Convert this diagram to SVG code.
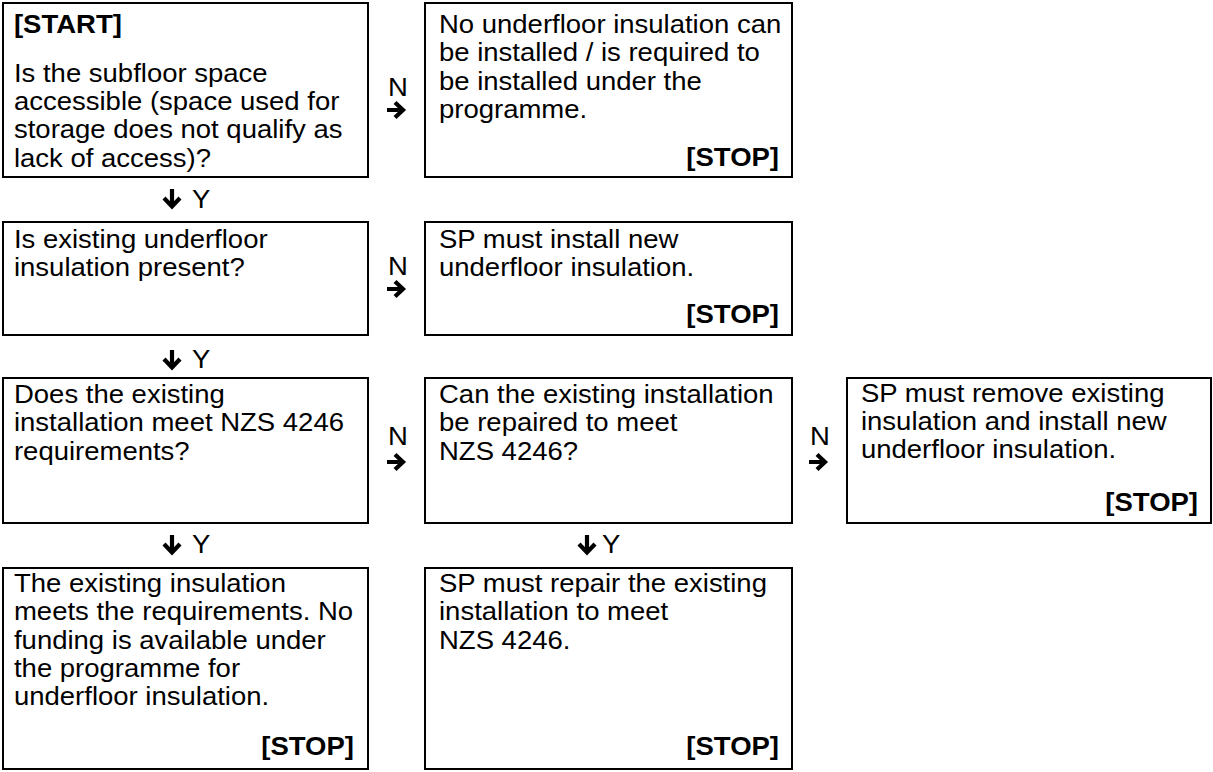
<svg xmlns="http://www.w3.org/2000/svg" width="1213" height="772" viewBox="0 0 1213 772">
<style>
.bg{fill:#fff}
.box{fill:#fff;stroke:#000;stroke-width:2}
.t{font-family:"Liberation Sans",Arial,sans-serif;font-size:25px;fill:#000}
.b{font-weight:bold}
.e{text-anchor:end}
.arr{fill:none;stroke:#000;stroke-width:4.2;stroke-linejoin:miter;stroke-linecap:butt}
</style>
<rect class="bg" x="0" y="0" width="1213" height="772"/>
<g id="n1">
<rect class="box" x="3" y="3" width="365" height="174"/>
<g transform="scale(1.1 1)">
<text class="t b" x="12.7" y="33">[START]</text>
<text class="t" x="12.7" y="82">Is the subfloor space</text>
<text class="t" x="12.7" y="110">accessible (space used for</text>
<text class="t" x="12.7" y="138.5">storage does not qualify as</text>
<text class="t" x="12.7" y="167">lack of access)?</text>
</g>
</g>
<g id="n2">
<rect class="box" x="425" y="3" width="367" height="174"/>
<g transform="scale(1.1 1)">
<text class="t" x="399.1" y="33">No underfloor insulation can</text>
<text class="t" x="399.1" y="61.5">be installed / is required to</text>
<text class="t" x="399.1" y="90">be installed under the</text>
<text class="t" x="399.1" y="118.5">programme.</text>
<text class="t b e" x="708.2" y="166">[STOP]</text>
</g>
</g>
<g id="n3">
<rect class="box" x="3" y="222" width="365" height="113"/>
<g transform="scale(1.1 1)">
<text class="t" x="12.7" y="248">Is existing underfloor</text>
<text class="t" x="12.7" y="276">insulation present?</text>
</g>
</g>
<g id="n4">
<rect class="box" x="425" y="222" width="367" height="113"/>
<g transform="scale(1.1 1)">
<text class="t" x="399.1" y="248">SP must install new</text>
<text class="t" x="399.1" y="276">underfloor insulation.</text>
<text class="t b e" x="708.2" y="323">[STOP]</text>
</g>
</g>
<g id="n5">
<rect class="box" x="3" y="378" width="365" height="145"/>
<g transform="scale(1.1 1)">
<text class="t" x="12.7" y="403">Does the existing</text>
<text class="t" x="12.7" y="431">installation meet NZS 4246</text>
<text class="t" x="12.7" y="460">requirements?</text>
</g>
</g>
<g id="n6">
<rect class="box" x="425" y="378" width="367" height="145"/>
<g transform="scale(1.1 1)">
<text class="t" x="399.1" y="403">Can the existing installation</text>
<text class="t" x="399.1" y="431">be repaired to meet</text>
<text class="t" x="399.1" y="460">NZS 4246?</text>
</g>
</g>
<g id="n7">
<rect class="box" x="847" y="378" width="364" height="145"/>
<g transform="scale(1.1 1)">
<text class="t" x="782.7" y="402">SP must remove existing</text>
<text class="t" x="782.7" y="430">insulation and install new</text>
<text class="t" x="782.7" y="458">underfloor insulation.</text>
<text class="t b e" x="1089.1" y="511">[STOP]</text>
</g>
</g>
<g id="n8">
<rect class="box" x="3" y="568" width="365" height="201"/>
<g transform="scale(1.1 1)">
<text class="t" x="12.7" y="592">The existing insulation</text>
<text class="t" x="12.7" y="620">meets the requirements. No</text>
<text class="t" x="12.7" y="649">funding is available under</text>
<text class="t" x="12.7" y="677">the programme for</text>
<text class="t" x="12.7" y="705">underfloor insulation.</text>
<text class="t b e" x="321.8" y="755">[STOP]</text>
</g>
</g>
<g id="n9">
<rect class="box" x="425" y="568" width="367" height="201"/>
<g transform="scale(1.1 1)">
<text class="t" x="399.1" y="592">SP must repair the existing</text>
<text class="t" x="399.1" y="620">installation to meet</text>
<text class="t" x="399.1" y="649">NZS 4246.</text>
<text class="t b e" x="708.2" y="755">[STOP]</text>
</g>
</g>
<g id="connectors">
<path class="arr" d="M387 110 H401 M395 102.5 L403 110 L395 117.5"/>
<path class="arr" d="M387 289 H401 M395 281.5 L403 289 L395 296.5"/>
<path class="arr" d="M387 462 H401 M395 454.5 L403 462 L395 469.5"/>
<path class="arr" d="M809 462 H823 M817 454.5 L825 462 L817 469.5"/>
<path class="arr" d="M172 189 V205 M164 198 L172 206.5 L180 198"/>
<path class="arr" d="M172 350 V366 M164 359 L172 367.5 L180 359"/>
<path class="arr" d="M172 535 V551 M164 544 L172 552.5 L180 544"/>
<path class="arr" d="M587 535 V551 M579 544 L587 552.5 L595 544"/>
<g transform="scale(1.1 1)">
<text class="t" x="352.7" y="96">N</text>
<text class="t" x="352.7" y="275">N</text>
<text class="t" x="352.7" y="445">N</text>
<text class="t" x="736.4" y="445">N</text>
<text class="t" x="174.5" y="208">Y</text>
<text class="t" x="174.5" y="368">Y</text>
<text class="t" x="174.5" y="553">Y</text>
<text class="t" x="547.3" y="553">Y</text>
</g>
</g>
</svg>
